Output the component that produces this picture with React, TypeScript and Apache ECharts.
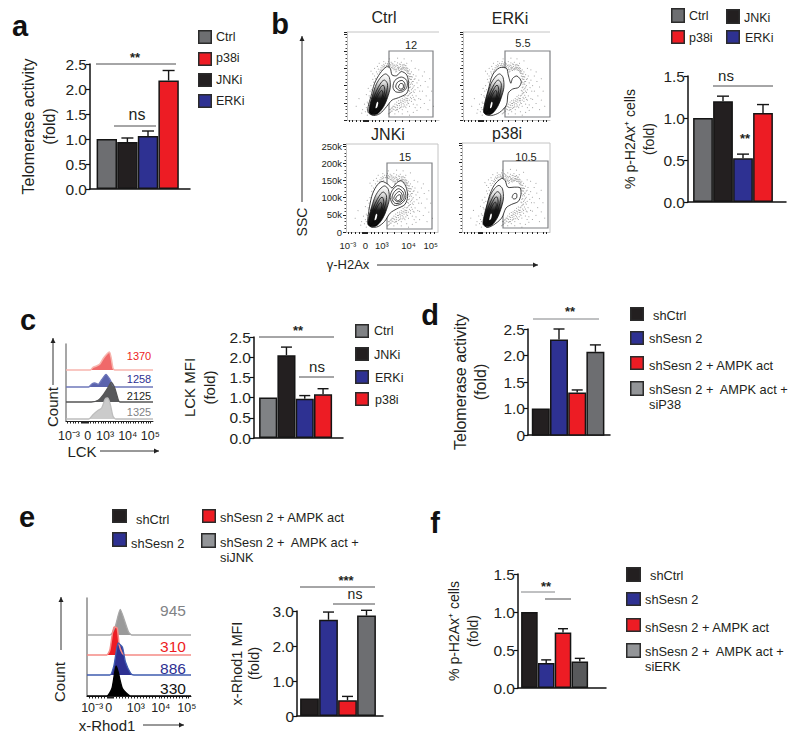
import React, { useEffect, useRef } from "react";
import * as echarts from "echarts";

const FONT = "Liberation Sans";
const INK = "#231f20";
const GRAY = "#6d6e71";
const SILVER = "#939598";
const BLUE = "#2e3192";
const RED = "#ed1c24";

// ---- bar data
const aCategories = ["Ctrl", "JNKi", "ERKi", "p38i"];
const aValues = [1.0, 0.94, 1.06, 2.17];
const aTops = [null, 1.02, 1.16, 2.37];
const bCategories = ["Ctrl", "JNKi", "ERKi", "p38i"];
const bValues = [1.0, 1.2, 0.52, 1.06];
const bTops = [null, 1.26, 0.57, 1.16];
const cCategories = ["Ctrl", "JNKi", "ERKi", "p38i"];
const cValues = [1.0, 2.05, 0.97, 1.08];
const cTops = [null, 2.25, 1.05, 1.22];
const dCategories = ["shCtrl", "shSesn 2", "shSesn 2 + AMPK act", "shSesn 2 + AMPK act + siP38"];
const dValues = [1.0, 2.3, 1.3, 2.07];
const dTops = [null, 2.5, 1.35, 2.2];
const eCategories = ["shCtrl", "shSesn 2", "shSesn 2 + AMPK act", "shSesn 2 + AMPK act + siJNK"];
const eValues = [0.5, 2.75, 0.45, 2.87];
const eTops = [null, 2.97, 0.56, 3.02];
const fCategories = ["shCtrl", "shSesn 2", "shSesn 2 + AMPK act", "shSesn 2 + AMPK act + siERK"];
const fValues = [1.0, 0.33, 0.73, 0.35];
const fTops = [null, 0.37, 0.78, 0.39];

// ---- histogram data: [fluorescence position, count]
const lckP38 = [[0,0],[28,0],[31,2.7],[35,4],[39,6],[43,11.7],[47,16],[50,18],[52,11.7],[54,1.7],[56,0],[100,0]];
const lckErk = [[0,0],[26,0],[30,3.3],[33,4],[37,2.7],[41,7.3],[46,12.7],[50,8.3],[54,1.7],[57,0],[100,0]];
const lckJnk = [[0,0],[29,0],[37,1.7],[43,7.3],[48,14],[52,19.7],[56,14],[60,2.3],[62,0],[100,0]];
const lckCtrl = [[0,0],[26,0],[31,4.3],[37,8.7],[41,11],[45,20],[48,21],[51,14.3],[54,2.7],[57,0],[100,0]];
const lckMfi = ["1370", "1258", "2125", "1325"];
const rhodJnk = [[0,0],[22,0],[27,8],[32,25.7],[36,14.7],[40,3],[43,0],[100,0]];
const rhodAmpk = [[0,0],[19,0],[22,5],[26,28],[29,27],[31,10],[34,1.7],[37,0],[100,0]];
const rhodSesn = [[0,0],[22,0],[26,10],[30,32],[34,28],[37,13],[42,1.7],[45,0],[100,0]];
const rhodCtrl = [[0,0],[19,0],[24,7.7],[28,30],[30,24],[34,7.7],[40,1],[43,0],[100,0]];
const rhodMfi = ["945", "310", "886", "330"];
const logLabels = ["10⁻³", "0", "10³", "10⁴", "10⁵"];
const lckLabelPos = [3.4, 25, 45, 71, 97];
const rhodLabelPos = [5, 21, 47, 71, 96];
const flowLabelPos = [2, 21, 39, 68, 92];
const histTicks = [2,5,8,11,14,17,19,20,21,22,23,24,25,28,31,34,37,40,43,45,48,51,54,57,60,63,66,69,71,74,77,80,83,86,89,92,95,97];
const flowTicks = [2,6,10,14,18,19,20,21,22,23,27,31,35,39,45,52,60,68,74,80,86,92,96];

// ---- flow cytometry: contours [biexponential position, SSC in k]
const ctrlOuter = [[23,22],[23,39],[26,68],[30,107],[36,136],[43,155],[47,150],[49,131],[54,129],[59,141],[65,131],[67,102],[65,78],[56,65],[49,58],[43,39],[36,19],[29,13]];
const ctrlLobes = [
  [[50,95],[52,115],[59,125],[65,115],[65,95],[60,82],[53,82]],
  [[53,96],[55,110],[60,115],[63,105],[62,90],[57,86]],
  [[56,96],[58,106],[61,104],[61,93],[58,90]],
];
const erkOuter = [[24,22],[25,49],[29,87],[34,131],[42,152],[50,150],[52,131],[55,107],[57,121],[62,128],[67,112],[64,95],[57,90],[52,78],[50,44],[42,22],[33,13],[27,15]];
const erkLobes = [] as number[][][];
const jnkOuter = [[24,23],[24,46],[28,104],[33,133],[39,147],[46,138],[50,128],[55,143],[60,149],[65,133],[67,104],[64,80],[55,67],[48,55],[42,31],[35,16],[28,14]];
const jnkLobes = [
  [[48,100],[50,120],[56,135],[63,125],[65,100],[60,82],[52,78]],
  [[50,98],[52,115],[57,126],[62,116],[63,98],[58,84],[53,84]],
  [[52,97],[54,110],[58,118],[61,108],[60,92],[56,88]],
  [[54,97],[56,106],[59,108],[59,95],[56,91]],
];
const p38Outer = [[25,26],[27,55],[31,103],[37,136],[45,154],[49,148],[52,129],[60,129],[66,127],[67,108],[64,88],[56,79],[50,69],[45,40],[35,19],[28,13]];
const p38Lobes = [[[57,100],[59,110],[62,110],[62,98],[59,95]]];
const blobRings = [
  [[24,22],[25,45],[28,75],[32,105],[37,125],[42,134],[46,124],[47,95],[44,65],[40,40],[34,20],[28,15]],
  [[26,24],[28,48],[30,72],[34,95],[38,112],[41,116],[44,105],[43,82],[40,58],[37,36],[32,22],[28,19]],
  [[27,26],[29,50],[32,72],[35,88],[38,100],[40,100],[41,85],[39,62],[36,40],[32,24],[29,22]],
  [[28,28],[30,50],[33,68],[36,82],[38,86],[39,76],[37,58],[34,38],[31,26]],
];
const blobCore = [[31,34],[32,48],[33,53],[34,50],[33,38]];
const flowHalo = [
  [36,146],[37,152],[38,158],[40,162],[41,150],[42,165],[44,160],[45,170],[46,164],[47,157],[48,168],[49,160],[50,155],[50,163],[51,146],[52,170],[52,152],[53,140],[54,160],[54,148],
  [55,166],[56,154],[56,146],[57,163],[58,156],[59,150],[59,168],[60,160],[61,154],[62,146],[62,162],[63,152],[64,158],[65,146],[65,165],[66,150],[66,140],[67,136],[68,146],[68,126],
  [69,118],[69,134],[70,140],[70,108],[71,125],[71,92],[72,132],[72,112],[73,100],[73,80],[74,120],[74,88],[75,128],[75,70],[76,108],[77,94],[78,116],[78,62],[79,84],[80,100],
  [67,86],[68,76],[69,66],[66,70],[65,62],[64,72],[63,58],[62,68],[61,54],[60,62],[59,50],[58,58],[57,48],[56,56],[55,42],[54,52],[53,36],[52,46],[51,30],[50,40],[49,26],[48,34],[47,22],[46,30],[45,18],
  [70,54],[72,46],[68,40],[66,50],[64,36],[62,44],[60,30],[58,36],[56,24],[54,30],[52,18],[74,58],[76,44],
  [32,140],[30,128],[28,118],[26,100],[25,84],[24,70],[22,52],[21,36],[20,24],[26,142],[33,156],[28,134],[19,46],[23,92],[21,74],[17,30],[22,14],[40,170],[35,165],[30,150],
];
const flowHaloInner = [
  [38,148],[39,154],[40,156],[41,158],[43,158],[44,164],[45,158],[46,156],[47,161],[48,153],[49,152],[49,165],[50,150],[51,158],[52,148],[52,160],[53,146],[53,156],[54,142],[55,152],
  [55,158],[56,150],[57,152],[57,144],[58,148],[58,162],[59,146],[60,154],[60,148],[61,150],[61,160],[62,152],[63,146],[63,158],[64,144],[64,150],[65,140],[65,152],[66,136],[66,144],
  [67,128],[67,142],[68,120],[68,134],[68,110],[69,126],[69,104],[69,96],[70,118],[70,126],[70,88],[70,80],[71,104],[71,112],[71,72],[72,96],[72,84],[72,66],[73,118],[73,60],
  [68,94],[68,84],[69,78],[67,72],[66,62],[65,56],[64,64],[63,52],[62,60],[61,48],[60,56],[59,44],[58,52],[57,42],[56,48],[55,36],[54,44],[53,28],[52,38],[51,40],[50,32],[49,36],[48,26],[47,30],[46,20],
  [66,56],[68,58],[70,62],[67,48],[65,44],[63,40],[61,38],[59,38],[57,34],[55,30],[37,144],[35,140],[33,134],[31,120],[29,110],[27,88],[25,66],[23,48],[22,30],[34,148],
];
const flowSparse = [
  [60,118],[74,150],[78,146],[82,128],[85,112],[88,96],[82,84],[86,70],[90,58],[84,48],[80,36],[76,28],[72,22],[66,24],[60,18],[88,30],[92,84],[94,40],[84,140],[70,172],[62,178],[55,180],[46,178],[10,40],[13,62],[16,20],[90,120],[80,60],[74,36],[68,14],
];

// ---- small layout helpers
const tx = (text: string, x: number, y: number, size = 12.8, fill = INK, extra: any = {}) => ({
  type: "text", x, y, z: 20, rotation: extra.rotation || 0, silent: true,
  style: { text, fill, font: `${extra.bold ? "bold " : ""}${size}px "${FONT}"`, textAlign: extra.align || "center", textVerticalAlign: "middle" },
});
const ln = (x1: number, y1: number, x2: number, y2: number, stroke = "#4d4d4f", lineWidth = 1) => ({
  type: "line", z: 20, silent: true, shape: { x1, y1, x2, y2 }, style: { stroke, lineWidth },
});
const sw = (x: number, y: number, w: number, h: number, fill: string) => ({
  type: "rect", z: 20, silent: true, shape: { x: x + 0.75, y: y + 0.75, width: w - 1.5, height: h - 1.5 }, style: { fill, stroke: "#2b2b2b", lineWidth: 1.5 },
});
const arrow = (x1: number, y1: number, x2: number, y2: number) => {
  const up = x1 === x2;
  return [
    ln(x1, y1, x2, y2, "#333", 1),
    {
      type: "polygon", z: 20, silent: true,
      shape: { points: up ? [[x2 - 2.5, y2 + 5], [x2 + 2.5, y2 + 5], [x2, y2]] : [[x2 - 5, y2 - 2.5], [x2 - 5, y2 + 2.5], [x2, y2]] },
      style: { fill: "#222" },
    },
  ];
};

export default function App() {
  const ref = useRef<HTMLDivElement>(null);
  useEffect(() => {
    const chart = echarts.init(ref.current!, undefined, { renderer: "svg" });
    const grid: any[] = [], xAxis: any[] = [], yAxis: any[] = [], series: any[] = [], graphic: any[] = [];

    const barPanel = (p: any) => {
      const i = grid.length;
      const w = p.right - p.left, h = p.bottom - p.top;
      const xmin = 0.5 - (p.first - p.left) / p.band;
      grid.push({ left: p.left, top: p.top, width: w, height: h });
      xAxis.push({
        gridIndex: i, type: "value", min: xmin, max: xmin + w / p.band, show: true, splitLine: { show: false },
        axisLabel: { show: false }, axisTick: { show: false },
        axisLine: { show: true, onZero: false, lineStyle: { color: "#111", width: 1.5 } },
      });
      yAxis.push({
        gridIndex: i, type: "value", min: p.min, max: p.max, interval: p.interval, splitLine: { show: false },
        axisLine: { show: true, onZero: false, lineStyle: { color: "#111", width: 1.5 } },
        axisTick: { show: true, length: 4, lineStyle: { color: "#111", width: 1.2 } },
        axisLabel: { margin: 3, fontFamily: FONT, fontSize: 15.5, color: INK, formatter: p.fmt },
        name: p.name, nameLocation: "middle", nameRotate: 90, nameGap: p.nameGap, nameMoveOverlap: false,
        nameTextStyle: { fontFamily: FONT, fontSize: p.nameSize, color: INK, lineHeight: p.nameLine },
      });
      series.push({
        type: "bar", xAxisIndex: i, yAxisIndex: i, barWidth: p.band - 0.2, silent: true,
        itemStyle: { borderColor: "#151515", borderWidth: 1.5 },
        data: p.values.map((v: number, k: number) => ({ name: p.cats[k], value: [k + 1, v], itemStyle: { color: p.colors[k] } })),
      });
      series.push({
        type: "custom", xAxisIndex: i, yAxisIndex: i, silent: true, z: 3, clip: false,
        data: p.tops.map((t: any, k: number) => (t == null ? null : [k + 1, p.values[k], t])).filter(Boolean),
        encode: { x: 0, y: [1, 2] },
        renderItem: (_: any, api: any) => {
          const a = api.coord([api.value(0), api.value(1)]);
          const b = api.coord([api.value(0), api.value(2)]);
          const st = { stroke: "#151515", lineWidth: 1.4, fill: "none" };
          return {
            type: "group",
            children: [
              { type: "line", shape: { x1: a[0], y1: a[1], x2: b[0], y2: b[1] }, style: st },
              { type: "line", shape: { x1: b[0] - p.cap, y1: b[1], x2: b[0] + p.cap, y2: b[1] }, style: st },
            ],
          };
        },
      });
    };

    const flowPanel = (p: any) => {
      const i = grid.length;
      grid.push({ left: p.left, top: p.top, width: p.right - p.left, height: p.bottom - p.top });
      xAxis.push({
        gridIndex: i, type: "value", min: 0, max: 100, splitLine: { show: false },
        axisLine: { show: true, onZero: false, lineStyle: { color: "#c4c4c4", width: 1 } },
        axisTick: { show: true, length: 2, customValues: flowTicks, lineStyle: { color: "#222", width: 1 } },
        axisLabel: p.labels
          ? { show: true, margin: 8, customValues: flowLabelPos, fontFamily: FONT, fontSize: 9.5, color: INK,
              formatter: (v: number) => logLabels[flowLabelPos.indexOf(v)] }
          : { show: false },
      });
      yAxis.push({
        gridIndex: i, type: "value", min: 0, max: 256, interval: 50, splitLine: { show: false },
        axisLine: { show: true, onZero: false, lineStyle: { color: "#c4c4c4", width: 1 } },
        axisTick: { show: true, length: 3, lineStyle: { color: "#222", width: 1 } },
        minorTick: { show: true, splitNumber: 5, length: 1.5, lineStyle: { color: "#444", width: 1 } },
        axisLabel: p.labels
          ? { show: true, margin: 4, fontFamily: FONT, fontSize: 9.5, color: INK, formatter: (v: number) => (v ? `${v}k` : "0") }
          : { show: false },
      });
      series.push({
        type: "scatter", xAxisIndex: i, yAxisIndex: i, symbolSize: 1, silent: true, z: 2,
        itemStyle: { color: "#555", opacity: 0.6 }, data: p.dots,
      });
      const dark = new echarts.graphic.LinearGradient(0, 0, 0, 1, [
        { offset: 0, color: "#ffffff" }, { offset: 0.22, color: "#dddddd" }, { offset: 0.42, color: "#777777" },
        { offset: 0.6, color: "#1a1a1a" }, { offset: 1, color: "#000000" },
      ]);
      const rings = [p.outer, ...p.lobes, ...blobRings, blobCore];
      const fills = (k: number) => {
        if (k === 0) return "#ffffff";
        if (k === 1 + p.lobes.length) return dark;
        if (k === rings.length - 1) return "#ffffff";
        return "none";
      };
      series.push({
        type: "custom", xAxisIndex: i, yAxisIndex: i, silent: true, z: 3,
        data: rings.map((_: any, k: number) => [k]),
        renderItem: (params: any, api: any) => {
          const k = params.dataIndex;
          const points = rings[k].map((q: number[]) => api.coord(q));
          return {
            type: "polygon", shape: { points, smooth: 0.3 },
            style: { fill: fills(k), stroke: k === rings.length - 1 ? "none" : "#111", lineWidth: 0.8 },
          };
        },
      });
      // gate and panel texts
      const g = p.gate;
      graphic.push({ type: "rect", z: 1, silent: true, shape: { x: g[0], y: g[1], width: g[2] - g[0], height: g[3] - g[1] }, style: { fill: "none", stroke: "#808285", lineWidth: 1.2 } });
      graphic.push(tx(p.title, p.tpos[0], p.tpos[1], 16), tx(p.pct, p.ppos[0], p.ppos[1], 11));
      if (p.frameTop) graphic.push(ln(p.left, p.top, p.right, p.top, "#c4c4c4", 1));
      if (p.frameRight) graphic.push(ln(p.right, p.top, p.right, p.bottom, "#c4c4c4", 1));
    };

    const histPanel = (p: any) => {
      const i = grid.length;
      grid.push({ left: p.left, top: p.top, width: p.right - p.left, height: p.bottom - p.top });
      xAxis.push({
        gridIndex: i, type: "value", min: 0, max: 100, splitLine: { show: false },
        axisLine: { show: true, onZero: false, lineStyle: { color: "#222", width: 1 } },
        axisTick: { show: true, length: 2.5, customValues: histTicks, lineStyle: { color: "#222", width: 1 } },
        axisLabel: { show: true, margin: p.margin, customValues: p.labelPos, fontFamily: FONT, fontSize: 12.5, color: INK,
          formatter: (v: number) => logLabels[p.labelPos.indexOf(v)] },
      });
      yAxis.push({
        gridIndex: i, type: "value", min: 0, max: p.bottom - p.top, splitLine: { show: false },
        axisLine: { show: true, onZero: false, lineStyle: { color: "#8a8a8a", width: 1.5 } },
        axisTick: { show: false }, axisLabel: { show: false },
      });
      p.curves.forEach((c: any) => {
        series.push({
          type: "line", xAxisIndex: i, yAxisIndex: i, silent: true, symbol: "none", z: 3, smooth: 0.2,
          data: c.data.map((q: number[]) => [q[0], q[1] + c.base]),
          lineStyle: { color: c.line, width: c.width || 1.3 },
          areaStyle: { color: c.fill, opacity: 1, origin: c.base },
        });
      });
    };

    const [cGray, cBlack] = ["#808285", INK];

    barPanel({ left: 90, right: 190, top: 64, bottom: 189, first: 96.5, band: 20.6, cap: 6, min: 0, max: 2.5, interval: 0.5,
      cats: aCategories, values: aValues, tops: aTops, colors: [GRAY, INK, BLUE, RED],
      name: "Telomerase activity\n(fold)", nameGap: 30, nameSize: 16, nameLine: 21, fmt: (v: number) => v.toFixed(1) });
    barPanel({ left: 688, right: 786, top: 76, bottom: 202, first: 693, band: 20, cap: 6, min: 0, max: 1.5, interval: 0.5,
      cats: bCategories, values: bValues, tops: bTops, colors: [GRAY, INK, BLUE, RED],
      name: "% p-H2Ax⁺ cells\n(fold)", nameGap: 30, nameSize: 14, nameLine: 19, fmt: (v: number) => v.toFixed(1) });
    barPanel({ left: 254, right: 343, top: 337, bottom: 438, first: 259, band: 18.3, cap: 5.5, min: 0, max: 2.5, interval: 0.5,
      cats: cCategories, values: cValues, tops: cTops, colors: [cGray, cBlack, BLUE, RED],
      name: "LCK MFI\n(fold)", nameGap: 35, nameSize: 15, nameLine: 20, fmt: (v: number) => v.toFixed(1) });
    barPanel({ left: 528, right: 610, top: 329, bottom: 435, first: 531.7, band: 18.2, cap: 5.5, min: 0.5, max: 2.5, interval: 0.5,
      cats: dCategories, values: dValues, tops: dTops, colors: [INK, BLUE, RED, GRAY],
      name: "Telomerase activity\n(fold)", nameGap: 38, nameSize: 16, nameLine: 20,
      fmt: (v: number) => (v === 0.5 ? "0" : v.toFixed(1)) });
    barPanel({ left: 297, right: 383, top: 611, bottom: 716, first: 300, band: 19, cap: 5.5, min: 0, max: 3, interval: 1,
      cats: eCategories, values: eValues, tops: eTops, colors: [INK, BLUE, RED, GRAY],
      name: "x-Rhod1 MFI\n(fold)", nameGap: 35, nameSize: 14.5, nameLine: 17, fmt: (v: number) => (v ? v.toFixed(1) : "0") });
    barPanel({ left: 518, right: 606, top: 574, bottom: 688, first: 521, band: 16.8, cap: 5, min: 0, max: 1.5, interval: 0.5,
      cats: fCategories, values: fValues, tops: fTops, colors: [INK, BLUE, RED, "#58595b"],
      name: "% p-H2Ax⁺ cells\n(fold)", nameGap: 36, nameSize: 14, nameLine: 19, fmt: (v: number) => v.toFixed(1) });

    const dots = [...flowHalo, ...flowHaloInner, ...flowSparse];
    flowPanel({ left: 347, right: 439, top: 32, bottom: 120, outer: ctrlOuter, lobes: ctrlLobes, dots, gate: [389, 51, 433, 117],
      title: "Ctrl", tpos: [384, 17], pct: "12", ppos: [411, 45], frameTop: true });
    flowPanel({ left: 463, right: 550, top: 32, bottom: 120, outer: erkOuter, lobes: erkLobes, dots, gate: [505, 51, 550, 117],
      title: "ERKi", tpos: [510, 18], pct: "5.5", ppos: [523, 43], frameTop: true });
    flowPanel({ left: 346, right: 438, top: 144, bottom: 232, outer: jnkOuter, lobes: jnkLobes, dots, gate: [387, 163, 432, 229],
      title: "JNKi", tpos: [388, 134], pct: "15", ppos: [405, 157], frameTop: true, frameRight: true, labels: true });
    flowPanel({ left: 462, right: 550, top: 143, bottom: 232, outer: p38Outer, lobes: p38Lobes, dots, gate: [503, 161, 548, 228],
      title: "p38i", tpos: [507, 133], pct: "10.5", ppos: [526, 157], frameTop: true, frameRight: true });

    histPanel({ left: 66, right: 153, top: 344, bottom: 421, margin: 8, labelPos: lckLabelPos, curves: [
      { data: lckP38, base: 51, line: "#f7b5ae", fill: "#f0696a", width: 1.5 },
      { data: lckErk, base: 34, line: "#6f78bb", fill: "#5a63ad" },
      { data: lckJnk, base: 19, line: "#555", fill: "#58595b" },
      { data: lckCtrl, base: 2, line: "#bdbdbd", fill: "#cbcbcb" },
    ] });
    histPanel({ left: 87, right: 191, top: 598, bottom: 696, margin: 5, labelPos: rhodLabelPos, curves: [
      { data: rhodJnk, base: 61, line: "#a8a8a8", fill: "#9a9a9a" },
      { data: rhodAmpk, base: 41, line: "#f58a85", fill: RED, width: 1.5 },
      { data: rhodSesn, base: 21, line: "#3f5cb0", fill: BLUE },
      { data: rhodCtrl, base: 0, line: "#000", fill: "#000" },
    ] });

    // panel letters
    graphic.push(
      tx("a", 20, 26, 29, "#111", { bold: true }), tx("b", 280, 24, 29, "#111", { bold: true }),
      tx("c", 28, 320, 29, "#111", { bold: true }), tx("d", 430, 315, 29, "#111", { bold: true }),
      tx("e", 27, 517, 29, "#111", { bold: true }), tx("f", 435, 523, 29, "#111", { bold: true }),
    );

    // legends
    const legend = (rows: any[]) => rows.forEach((r) => {
      graphic.push(sw(r[0], r[1], r[2], r[3], r[4]));
      (r[5] as any[]).forEach((t) => graphic.push(tx(t[0], t[1], t[2], r[6] || 12.8, INK, { align: "left" })));
    });
    legend([
      [198, 30, 14, 14, GRAY, [["Ctrl", 216, 37]], 12.5],
      [198, 52, 14, 14, RED, [["p38i", 216, 58]], 12.5],
      [198, 73, 14, 14, INK, [["JNKi", 216, 80]], 12.5],
      [198, 94, 14, 14, BLUE, [["ERKi", 216, 101]], 12.5],
      [671, 8, 14, 15, GRAY, [["Ctrl", 689, 16]], 12.5],
      [726, 9, 14, 15, INK, [["JNKi", 744, 18]], 12.5],
      [671, 30, 14, 14, RED, [["p38i", 689, 38]], 12.5],
      [726, 30, 14, 14, BLUE, [["ERKi", 745, 38]], 12.5],
      [355, 324, 14, 14, cGray, [["Ctrl", 374, 331]], 12.5],
      [355, 347, 14, 14, INK, [["JNKi", 374, 355]], 12.5],
      [355, 370, 14, 14, BLUE, [["ERKi", 375, 378]], 12.5],
      [355, 392, 14, 14, RED, [["p38i", 375, 400]], 12.5],
      [630, 307, 14, 14, INK, [["shCtrl", 653, 315]]],
      [630, 331, 14, 14, BLUE, [["shSesn 2", 649, 338]]],
      [630, 356, 14, 14, RED, [["shSesn 2 + AMPK act", 649, 365]]],
      [630, 381, 14, 15, SILVER, [["shSesn 2 +  AMPK act +", 649, 389], ["siP38", 649, 404]]],
      [112, 509, 15, 14, INK, [["shCtrl", 136, 519]]],
      [112, 532, 15, 15, BLUE, [["shSesn 2", 131, 543]]],
      [202, 509, 14, 14, RED, [["shSesn 2 + AMPK act", 220, 517]]],
      [201, 533, 15, 15, SILVER, [["shSesn 2 +  AMPK act +", 220, 542], ["siJNK", 220, 557]]],
      [626, 567, 15, 15, INK, [["shCtrl", 650, 575]]],
      [626, 592, 15, 14, BLUE, [["shSesn 2", 645, 599]]],
      [626, 618, 15, 14, RED, [["shSesn 2 + AMPK act", 645, 627]]],
      [626, 643, 15, 15, SILVER, [["shSesn 2 +  AMPK act +", 645, 651], ["siERK", 645, 666]]],
    ]);

    // significance marks
    graphic.push(
      tx("**", 135, 57, 13, INK, { bold: true }), ln(96, 64, 176, 64), tx("ns", 137, 114, 16), ln(114, 126, 156, 126),
      tx("ns", 726, 75, 15), ln(713, 86, 773, 86), tx("**", 745, 138, 13, INK, { bold: true }),
      tx("**", 298, 330, 13, INK, { bold: true }), ln(259, 337, 334, 337), tx("ns", 317, 366, 15), ln(299, 377, 334, 377),
      tx("**", 570, 311, 13, INK, { bold: true }), ln(533, 319, 599, 319, "#808285"),
      tx("***", 346, 580, 13, INK, { bold: true }), ln(300, 587, 375, 587), tx("ns", 355, 594, 14), ln(333, 604, 375, 604),
      tx("**", 546, 586, 13, INK, { bold: true }), ln(521, 592, 555, 592, "#808285"), ln(545, 599, 571, 599),
    );

    // flow axis captions
    graphic.push(
      tx("SSC", 302, 222, 14, INK, { rotation: Math.PI / 2 }), ...arrow(302, 202, 302, 36),
      tx("γ-H2Ax", 348, 264, 13), ...arrow(377, 265, 538, 265),
      tx("LCK", 82, 451, 15), ...arrow(100, 451, 159, 451),
      tx("Count", 52, 407, 15, INK, { rotation: Math.PI / 2 }), ...arrow(53, 385, 53, 338),
      tx("x-Rhod1", 107, 725, 15), ...arrow(143, 725, 184, 725),
      tx("Count", 59, 682, 15, INK, { rotation: Math.PI / 2 }), ...arrow(61, 650, 61, 597),
      tx(lckMfi[0], 139, 356, 11, "#ed1c24"), tx(lckMfi[1], 139, 379, 11, BLUE),
      tx(lckMfi[2], 139, 396, 11, INK), tx(lckMfi[3], 139, 412, 11, "#808285"),
      tx(rhodMfi[0], 173, 610, 15.5, "#808285"), tx(rhodMfi[1], 173, 646, 15.5, RED),
      tx(rhodMfi[2], 173, 668, 15.5, BLUE), tx(rhodMfi[3], 173, 688, 15.5, "#111"),
    );

    chart.setOption({ animation: false, backgroundColor: "#fff", grid, xAxis, yAxis, series, graphic });
    return () => chart.dispose();
  }, []);
  return <div ref={ref} style={{ position: "absolute", left: 0, top: 0, width: 800, height: 748 }} />;
}
